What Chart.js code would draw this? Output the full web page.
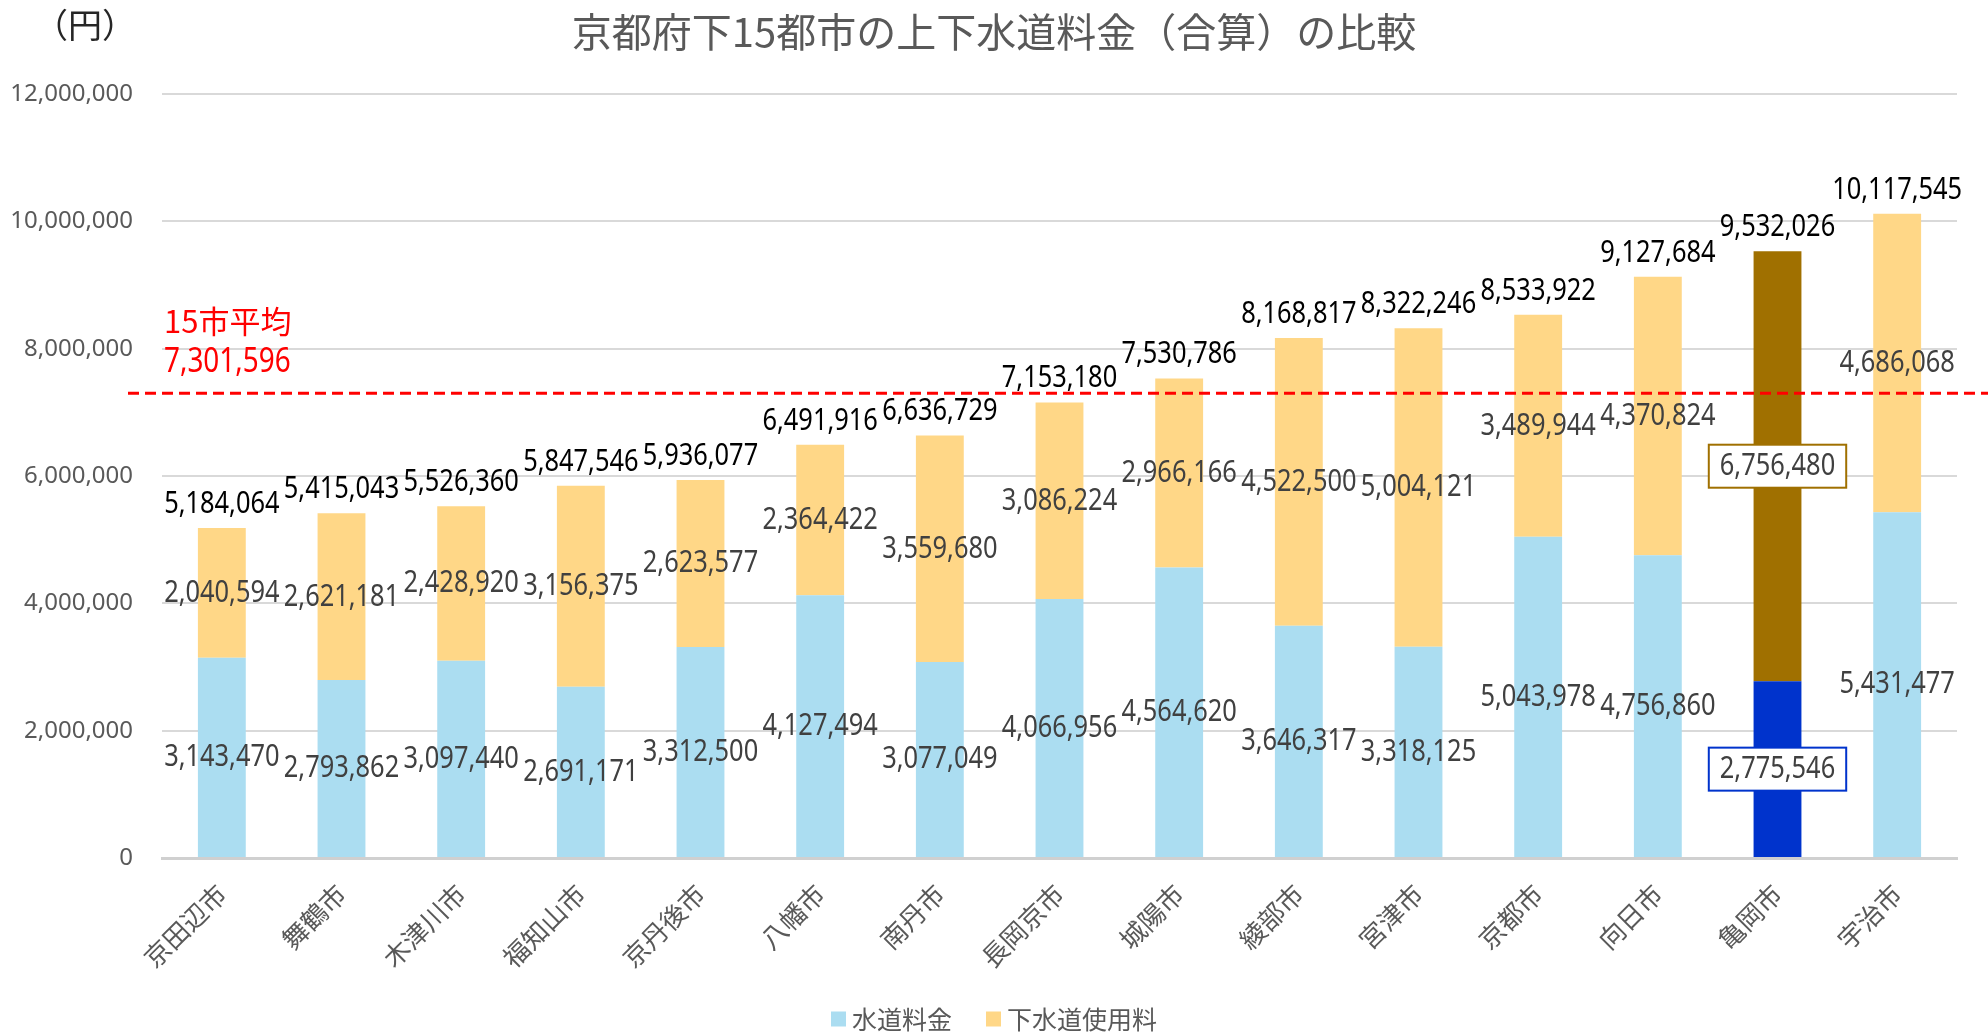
<!DOCTYPE html>
<html lang="ja">
<head>
  <meta charset="UTF-8">
  <title>京都府下15都市の上下水道料金（合算）の比較</title>
  <script src="https://cdn.jsdelivr.net/npm/chart.js"></script>
  <style>
    html, body {
      margin: 0;
      padding: 0;
      background: #fff;
    }

    .wrap {
      position: relative;
      width: 1988px;
      height: 1032px;
    }
  </style>
</head>
<body>
  <div class="wrap">
    <canvas id="waterChart"></canvas>
  </div>

<script>
    const categories = ['京田辺市', '舞鶴市', '木津川市', '福知山市', '京丹後市', '八幡市', '南丹市', '長岡京市',
      '城陽市', '綾部市', '宮津市', '京都市', '向日市', '亀岡市', '宇治市'];
    const waterFee = [3143470, 2793862, 3097440, 2691171, 3312500, 4127494, 3077049, 4066956,
      4564620, 3646317, 3318125, 5043978, 4756860, 2775546, 5431477];
    const sewerFee = [2040594, 2621181, 2428920, 3156375, 2623577, 2364422, 3559680, 3086224,
      2966166, 4522500, 5004121, 3489944, 4370824, 6756480, 4686068];
    const totals = [5184064, 5415043, 5526360, 5847546, 5936077, 6491916, 6636729, 7153180,
      7530786, 8168817, 8322246, 8533922, 9127684, 9532026, 10117545];
    const average = 7301596;
    const highlightCity = '亀岡市';
    const chartTitle = '京都府下15都市の上下水道料金（合算）の比較';

    const numFont = '"Noto Sans", sans-serif';
    const jpFont = '"Noto Sans CJK JP", sans-serif';
    const fmt = v => v.toLocaleString('en-US');

    // 数字は少し横に詰めて描く (元のグラフのフォントが細長いため)
    function narrowText(ctx, text, x, y, sx) {
      ctx.save();
      ctx.translate(x, y);
      ctx.scale(sx, 1);
      ctx.fillText(text, 0, 0);
      ctx.restore();
    }

    // タイトル・単位・凡例 (キャンバス全体の中央に置きたいので自前で描く)
    const headerText = {
      id: 'headerText',
      afterDraw(chart) {
        const ctx = chart.ctx;
        ctx.save();
        ctx.textBaseline = 'middle';
        ctx.textAlign = 'center';
        ctx.fillStyle = '#595959';
        ctx.font = '40px ' + jpFont;
        ctx.fillText(chartTitle, chart.width / 2, 32);

        ctx.textAlign = 'left';
        ctx.fillStyle = '#262626';
        ctx.font = '34px ' + jpFont;
        ctx.fillText('（円）', 34, 25);

        // 凡例
        ctx.font = '25px ' + jpFont;
        const items = chart.data.datasets.map(ds => ({ text: ds.label, color: ds.backgroundColor[0] }));
        const box = 15, gap = 6, spacing = 34, ly = 1019;
        const widths = items.map(it => box + gap + ctx.measureText(it.text).width);
        const total = widths.reduce((a, b) => a + b, 0) + spacing * (items.length - 1);
        let lx = chart.width / 2 - total / 2;
        items.forEach((it, i) => {
          ctx.fillStyle = it.color;
          ctx.fillRect(lx, ly - box / 2, box, box);
          ctx.fillStyle = '#595959';
          ctx.fillText(it.text, lx + box + gap, ly);
          lx += widths[i] + spacing;
        });
        ctx.restore();
      }
    };

    // 15市平均の赤い点線
    const averageLine = {
      id: 'averageLine',
      afterDatasetsDraw(chart) {
        const ctx = chart.ctx;
        const y = chart.scales.y.getPixelForValue(average);
        ctx.save();
        ctx.strokeStyle = '#ff0000';
        ctx.lineWidth = 3;
        ctx.setLineDash([11, 6]);
        ctx.beginPath();
        ctx.moveTo(128, y);
        ctx.lineTo(chart.width, y);
        ctx.stroke();
        ctx.setLineDash([]);
        ctx.fillStyle = '#ff0000';
        ctx.textAlign = 'left';
        ctx.textBaseline = 'middle';
        ctx.font = '31px ' + jpFont;
        ctx.fillText('15市平均', chart.chartArea.left + 2, y - 72);
        ctx.font = '34px ' + numFont;
        narrowText(ctx, fmt(average), chart.chartArea.left + 2, y - 31, 0.82);
        ctx.restore();
      }
    };

    // 各棒の数値ラベル
    const barLabels = {
      id: 'barLabels',
      afterDatasetsDraw(chart) {
        const ctx = chart.ctx;
        ctx.save();
        ctx.textAlign = 'center';
        ctx.textBaseline = 'middle';
        ctx.font = '31px ' + numFont;
        chart.data.datasets.forEach((ds, di) => {
          const meta = chart.getDatasetMeta(di);
          meta.data.forEach((bar, i) => {
            const { x, y, base } = bar.getProps(['x', 'y', 'base'], true);
            const cy = (y + base) / 2;
            const text = fmt(ds.data[i]);
            if (categories[i] === highlightCity) {
              const w = ctx.measureText(text).width * 0.82 + 22;
              const h = 43;
              ctx.fillStyle = '#ffffff';
              ctx.fillRect(x - w / 2, cy - h / 2, w, h);
              ctx.strokeStyle = ds.backgroundColor[i];
              ctx.lineWidth = 2;
              ctx.strokeRect(x - w / 2, cy - h / 2, w, h);
            }
            ctx.fillStyle = '#404040';
            narrowText(ctx, text, x, cy, 0.82);
          });
        });

        const topMeta = chart.getDatasetMeta(1);
        ctx.fillStyle = '#000000';
        topMeta.data.forEach((bar, i) => {
          narrowText(ctx, fmt(totals[i]), bar.x, bar.y - 24, 0.82);
        });
        ctx.restore();
      }
    };

    const canvas = document.getElementById('waterChart');
    canvas.width = 1988;
    canvas.height = 1032;

    new Chart(canvas.getContext('2d'), {
      type: 'bar',
      data: {
        labels: categories,
        datasets: [
          {
            label: '水道料金',
            data: waterFee,
            backgroundColor: categories.map(c => c === highlightCity ? '#0033cc' : '#abddf1')
          },
          {
            label: '下水道使用料',
            data: sewerFee,
            backgroundColor: categories.map(c => c === highlightCity ? '#a07000' : '#ffd787')
          }
        ]
      },
      options: {
        responsive: false,
        animation: false,
        events: [],
        datasets: { bar: { barPercentage: 0.4, categoryPercentage: 1 } },
        layout: { padding: { left: 0, right: 31, top: 94, bottom: 0 } },
        plugins: {
          legend: { display: false },
          tooltip: { enabled: false }
        },
        scales: {
          x: {
            stacked: true,
            afterFit(scale) { scale.height = 174; },
            grid: { display: false },
            border: { color: '#d0d0d0', width: 3 },
            ticks: {
              color: '#595959',
              font: { family: jpFont, size: 26 },
              minRotation: 45,
              maxRotation: 45,
              padding: 12
            }
          },
          y: {
            stacked: true,
            min: 0,
            max: 12000000,
            afterFit(scale) { scale.width = 162; },
            grid: { color: '#d9d9d9', lineWidth: 2, drawTicks: false },
            border: { display: false },
            ticks: {
              stepSize: 2000000,
              color: '#595959',
              font: { family: numFont, size: 24 },
              padding: 29,
              callback: v => fmt(v)
            }
          }
        }
      },
      plugins: [headerText, averageLine, barLabels]
    });
</script>
</body>
</html>
